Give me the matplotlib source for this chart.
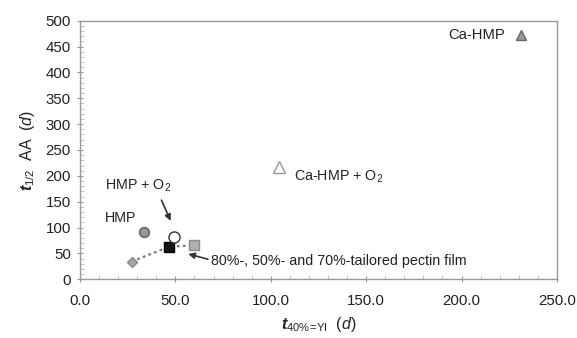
import matplotlib.pyplot as plt
from matplotlib.ticker import MultipleLocator, FormatStrFormatter

plt.rcParams['font.family'] = ['Liberation Sans', 'DejaVu Sans']
plt.rcParams['mathtext.fontset'] = 'custom'
plt.rcParams['mathtext.rm'] = 'Liberation Sans'
plt.rcParams['mathtext.it'] = 'Liberation Sans:italic'
plt.rcParams['mathtext.bf'] = 'Liberation Sans:bold'
plt.rcParams['mathtext.bfit'] = 'Liberation Sans:bold:italic'

# samples: x = t40%=YI (d), y = t1/2 AA (d)
ca_hmp = (231.1, 473)
ca_hmp_o2 = (104.5, 218)
hmp = (33.5, 91.6)
hmp_o2 = (49.4, 82.5)
# tailored pectin films: 80%, 50%, 70%
film_x = [27.1, 46.8, 59.7]
film_y = [34.3, 63.0, 65.5]

fig = plt.figure(figsize=(5.77, 3.38), dpi=100)
ax = fig.add_axes([0.1386, 0.1737, 0.8267, 0.7651])

ax.plot(film_x, film_y, linestyle=(0, (1.2, 1.5)), color='#777777', lw=1.6, zorder=1)
ax.plot(film_x[0], film_y[0], 'D', ms=5.5, mfc='#a8a8a8', mec='#888888', mew=1, zorder=3)
ax.plot(film_x[1], film_y[1], 's', ms=7, mfc='#151515', mec='#000000', mew=1, zorder=3)
ax.plot(film_x[2], film_y[2], 's', ms=7, mfc='#b0b0b0', mec='#8a8a8a', mew=1, zorder=3)

ax.plot(*hmp, 'o', ms=7, mfc='#999999', mec='#666666', mew=1.2, zorder=3)
ax.plot(*hmp_o2, 'o', ms=8, mfc='white', mec='#333333', mew=1, zorder=3)
ax.plot(*ca_hmp, '^', ms=7, mfc='#999999', mec='#666666', mew=1, zorder=3)
ax.plot(*ca_hmp_o2, '^', ms=8, mfc='white', mec='#999999', mew=1, zorder=3)

fs = 10.8
tfs = 10.3
ax.text(193, 473, 'Ca-HMP', fontsize=10.6, va='center', color='#222222')
ax.text(112, 198, 'Ca-HMP + O$_2$', fontsize=tfs, va='center', color='#222222')
ax.text(13, 180, 'HMP + O$_2$', fontsize=tfs, va='center', color='#222222')
ax.text(13, 119, 'HMP', fontsize=tfs, va='center', color='#222222')
ax.annotate('', xy=(47.5, 113), xytext=(42.7, 153),
            arrowprops=dict(arrowstyle='-|>', color='#333333', lw=1.2,
                            mutation_scale=9, shrinkA=0, shrinkB=0))
ax.annotate('80%-, 50%- and 70%-tailored pectin film', xy=(56.8, 49),
            xytext=(68.5, 36), fontsize=tfs, va='center', color='#222222',
            arrowprops=dict(arrowstyle='-|>', color='#333333', lw=1.2,
                            mutation_scale=9, shrinkA=0, shrinkB=0,
                            relpos=(0, 0.55)))

ax.set_xlim(0, 250)
ax.set_ylim(0, 500)
ax.xaxis.set_major_locator(MultipleLocator(50))
ax.xaxis.set_minor_locator(MultipleLocator(10))
ax.yaxis.set_major_locator(MultipleLocator(50))
ax.yaxis.set_minor_locator(MultipleLocator(10))
ax.xaxis.set_major_formatter(FormatStrFormatter('%.1f'))

for s in ax.spines.values():
    s.set_color('#999999')
    s.set_linewidth(1)
ax.tick_params(which='major', direction='inout', length=5, color='#999999',
               labelsize=fs, labelcolor='#222222', pad=4)
ax.tick_params(which='minor', direction='in', length=3, color='#bbbbbb')
ax.tick_params(axis='x', pad=8)

ax.set_xlabel(r'$\mathbfit{t}_{\mathrm{40\%\!=\!YI}}$  ($\mathit{d}$)', fontsize=11.5,
              color='#222222', labelpad=5)
ax.set_ylabel(r'$\mathbfit{t}_{\mathrm{1/2}}$  AA  ($\mathit{d}$)', fontsize=11.5,
              color='#222222', labelpad=6)

fig.savefig('out.png', dpi=100)
